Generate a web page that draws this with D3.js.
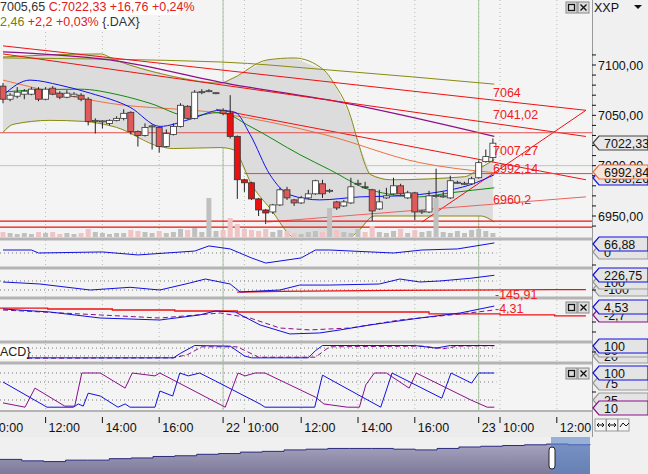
<!DOCTYPE html><html><head><meta charset="utf-8">
<script src="https://cdn.jsdelivr.net/npm/d3@7"></script>
<style>body{margin:0;background:#fff}svg{display:block;font-family:"Liberation Sans",Arial,sans-serif}</style></head><body>
<script>
// ---- data ----
const candles=[ // [open,high,low,close]
[7079,7082,7062,7066],[7066,7072,7064,7070],[7069,7078,7067,7073],[7071,7076,7066,7074],[7071,7078,7070,7076],
[7076,7078,7064,7066],[7066,7078,7065,7076],[7077,7079,7070,7071],[7072,7074,7066,7068],[7068,7075,7067,7072],
[7069,7073,7068,7071],[7070,7072,7064,7066],[7066,7068,7040,7044],[7045,7047,7032,7045],[7044,7045,7037,7044.5],
[7042,7046,7040,7045],[7045,7049,7044,7047],[7047,7056,7045,7052],[7053,7054,7031,7034],[7034,7035,7019,7030],
[7030,7042,7029,7038],[7039,7041,7016,7039.5],[7038,7039,7013,7019],[7019,7036,7018,7032],[7031,7042,7030,7039],
[7039,7062,7038,7060],[7059,7060,7046,7047],[7047,7075,7046,7073],[7073,7076,7071,7073.5],[7074,7076,7073,7074.5],
[7072,7073,7071,7072.5],[7055,7057,7050,7052],[7052,7070,7027,7029],[7029,7030,6967,6986],[6986,6987,6974,6983],
[6983,6984,6966,6967],[6967,6968,6950,6956],[6956,6957,6942,6953],[6954,6962,6952,6961],[6961,6978,6960,6976],
[6976,6979,6966,6968],[6966,6967,6960,6963],[6963,6970,6962,6968],[6968,6976,6967,6972],[6972,6986,6971,6985],
[6982,6986,6968,6972],[6975,6977,6973,6975.5],[6964,6965,6956,6958],[6960,6966,6959,6964],[6963,6988,6962,6979],
[6982,6986,6980,6982.5],[6979,6984,6977,6978],[6976,6977,6945,6955],[6957,6976,6956,6964],[6968,6978,6967,6970],
[6972,6988,6971,6980],[6980,6982,6971,6972],[6968,6975,6967,6973],[6973,6974,6946,6954],[6954,6956,6952,6955],
[6954,6975,6953,6970],[6970,6997,6968,6970.5],[6969,6974,6968,6970],[6968,6990,6967,6985],[6983,6985,6982,6983.5],
[6982,6984,6981,6982.5],[6982,6989,6981,6987],[6988,7005,6987,7003],[7004,7016,7003,7009],[7008,7027,7004,7022.33]];
const volume=[6,5,4,5,4,6,5,6,4,5,4,5,9,6,5,4,5,5,8,7,6,5,7,5,6,9,8,10,6,40,7,8,20,14,9,8,7,9,6,8,7,5,4,6,7,6,30,8,6,5,9,6,12,6,5,7,9,5,8,6,7,40,6,5,7,5,8,9,7,5];
const bbUpper=[[0,7108],[13.7,7111],[15.8,7105],[23.1,7090],[30.6,7082],[32.4,7087],[37.2,7105],[41,7107],[45.2,7095],[46.6,7082],[49,7048],[49.9,7026],[51.8,6991],[54.6,6986],[65,6989],[67.3,6998],[69.2,7006]];
const bbLower=[[0,7033],[1.4,7041],[6.6,7045],[11.3,7044],[16,7038],[22.1,7019],[24,7017],[30.6,7018],[32.4,7016],[35.2,6979],[38,6954],[40,6934],[45,6915],[49.9,6934],[52.3,6950],[67.3,6950],[69.2,6944]];
const maOlive=[[0,7107],[30.6,7103],[46,7095],[69.2,7081]];
const maPurple=[[0,7113],[15,7105],[32,7081],[46,7065],[69.2,7029]];
const maOrange=[[0,7085],[15,7062],[30.6,7052],[45.2,7031],[58.7,7003],[69.2,6993]];
const maGreen=[[0,7073],[3.8,7075],[10.8,7076],[16.5,7070],[20.7,7062],[26.3,7049],[30.6,7053],[34.8,7039],[41.8,7011],[46,6996],[51.7,6976],[58.7,6969],[63,6973],[69.2,6978]];
const maBlue=[[0,7070],[3.8,7085],[8,7080],[12.3,7072],[17.9,7058],[22.1,7039],[26.3,7046],[30.6,7055],[32.7,7053],[34.8,7031],[37.6,6991],[40.4,6971],[44.6,6966],[50.3,6969],[55.9,6970],[61.5,6974],[65.8,6981],[69.2,6991]];
const trendLines=[[[0,7119],[82.1,7055]],[[0,7111],[82.1,7029]],[[30,7056],[82.1,6986]],[[59,6944],[82.1,7055]],[[37.2,6944],[82.1,6969]]];
const hLines=[[-1,7032.7],[34,6992.14],[-1,6945],[-1,6939]];
const levelLabels=[["7064",7068],["7041,02",7046],["7007,27",7011],["6992,14",6993],["6960,2",6962]];
const priceTicks=[7100,7050,7000,6950];
const p1=[[0,20],[4,20],[5,0],[14,7],[19,-13],[27,13],[29,47],[32,27],[35,-33],[37,-67],[42,-33],[44,20],[46,20],[55,0],[59,20],[64,27],[69.2,67]];
const p2Blue=[[0,78],[5.2,33],[12.3,-100],[17.9,-40],[22.1,-100],[26.3,55],[28.5,144],[32,33],[33.4,-144],[39,-100],[41.8,10],[46,10],[53,33],[55.9,144],[58.7,78],[61.5,100],[65.8,160],[69.2,227]];
const p2Red=[[33,-145],[39,-130],[55,-110],[77,-90],[82.1,-90]];
const p3Blue=[[0,2.2],[6.6,-1.1],[13.7,-7.8],[22.1,-10],[27.7,-4.4],[29.9,0],[32.7,-1.1],[36.2,-15.5],[40.4,-25.5],[44.6,-24.4],[47.5,-21],[51.7,-15.5],[58.7,-7.8],[64.4,-2.2],[69.2,5.5]];
const p3Purple=[[0,1.1],[13.7,-4.4],[22.1,-7.8],[30.6,-2.2],[34.8,-7.8],[39,-18.9],[43.2,-21],[48.9,-18.9],[55.9,-10],[64.4,-3.3],[69.2,1.1]];
const p3Red=[[-1,3.3],[6.3,3.3],[6.3,2.2],[15.4,2.2],[15.4,1.1],[24.2,1.1],[24.2,0],[33,0],[33,-1.1],[60,-1.1],[60,-3.3],[70,-3.3],[70,-4.3],[77.7,-4.3],[77.7,-5.5],[82.1,-5.5]];
const p4Blue=[[0,5],[24,5],[25,40],[27,100],[32,95],[34,20],[35,5],[43,5],[44,60],[45,100],[58,100],[61,80],[63,100],[69.2,100]];
const p4Purple=[[0,2],[24,5],[26,30],[28,90],[33,90],[36,10],[44,10],[46,90],[59,95],[62,75],[64,95],[69.2,98]];
const p5Blue=[[0,75],[6.2,5],[9.9,5],[10.6,14],[11.3,8],[12,44],[13.7,36],[16.2,5],[17.2,14],[17.9,5],[21.4,5],[22.1,50],[23.9,36],[24.9,100],[26.1,92],[27.7,100],[29.9,78],[36.2,14],[36.9,5],[43.9,5],[45,94],[53.2,5],[54.8,100],[61.8,30],[63.1,100],[66,72],[67,100],[69.2,100]];
const p5Purple=[[0,17],[3.1,5],[4.5,58],[8.7,8],[10.1,8],[11.1,100],[13.7,100],[17.2,58],[18.2,100],[21.4,92],[22.1,100],[31.3,5],[33.1,100],[34.1,92],[35.5,100],[36.9,100],[44,33],[45.2,14],[48.5,5],[50.2,5],[51.1,67],[52.3,100],[54,100],[57.2,58],[58.2,100],[65.9,25],[68.2,5],[69.2,5]];
const timeTicks=[[-2,"10:00"],[6,"12:00"],[14,"14:00"],[22,"16:00"],[31,"22"],[34,"10:00"],[42,"12:00"],[50,"14:00"],[58,"16:00"],[67,"23"],[70,"10:00"],[78,"12:00"]];
const daySeps=[31,67];
const nav=[20,18,17,19,19,21,22,24,25,27,28,30,31,33,34,35,35,35,34,33,35,37,38,39,40,41,40,41];

// ---- drawing ----
const W=648,H=474,PR=592,FS=12.5;
const svg=d3.select("body").append("svg").attr("width",W).attr("height",H);
const x=d3.scaleLinear().domain([0,80]).range([3,571]);
const y=d3.scaleLinear().domain([7100,6950]).range([65,216]);
svg.append("rect").attr("width",W).attr("height",H).attr("fill","#f4f4f4");
const defs=svg.append("defs");
function clip(id,y0,y1){defs.append("clipPath").attr("id",id).append("rect").attr("x",0).attr("y",y0).attr("width",PR).attr("height",y1-y0);}
clip("cm",0,237);clip("c1",241,267);clip("c2",270,297);clip("c3",300,341);clip("c4",344,362);clip("c5",365,411);
const ln=(ys)=>d3.line().x(d=>x(d[0])).y(d=>ys(d[1]));
const g0=svg.append("g");
timeTicks.forEach(t=>{g0.append("line").attr("x1",x(t[0])).attr("x2",x(t[0])).attr("y1",0).attr("y2",412).attr("stroke","#b4bcb4").attr("stroke-dasharray","1,3");});
daySeps.forEach(d=>g0.append("line").attr("x1",x(d)).attr("x2",x(d)).attr("y1",0).attr("y2",412).attr("stroke","#a8c4a0"));
g0.append("line").attr("x1",0).attr("x2",PR).attr("y1",y(7000)).attr("y2",y(7000)).attr("stroke","#b8c8b8");
const m=svg.append("g").attr("clip-path","url(#cm)");
const area=d3.area().x(d=>x(d[0])).y0(d=>y(d[1])).y1(d=>y(d[2])).curve(d3.curveMonotoneX);
const lowI=d3.scaleLinear().domain(bbLower.map(d=>d[0])).range(bbLower.map(d=>d[1]));
const upI=d3.scaleLinear().domain(bbUpper.map(d=>d[0])).range(bbUpper.map(d=>d[1]));
const bandPts=d3.range(0,69.3,0.3).map(i=>[i,upI(i),lowI(i)]);
m.append("path").attr("d",area(bandPts)).attr("fill","#dcdcdc");
const curveLine=(data,c,w)=>m.append("path").attr("d",ln(y).curve(d3.curveMonotoneX)(data)).attr("fill","none").attr("stroke",c).attr("stroke-width",w||1);
curveLine(bbUpper,"#8a8a10");curveLine(bbLower,"#8a8a10");
curveLine(maOlive,"#8a8a10");curveLine(maPurple,"#8a108a",1.3);curveLine(maOrange,"#f07040");
trendLines.forEach((t,k)=>m.append("path").attr("d",ln(y)(t)).attr("stroke",k==4?"#f06060":"#f01010").attr("fill","none"));
hLines.forEach((h,k)=>m.append("line").attr("x1",x(h[0])).attr("x2",PR).attr("y1",y(h[1])).attr("y2",y(h[1])).attr("stroke",k==1?"#f04040":(k==0?"#e05050":"#f01010")).attr("stroke-width",k>=2?1.2:1));
curveLine(maGreen,"#108a10");curveLine(maBlue,"#1010f0");
const vy=d3.scaleLinear().domain([0,48]).range([238,190]);
m.selectAll(".v").data(volume).join("rect").attr("x",(d,i)=>x(i)-2.5).attr("width",5).attr("y",d=>vy(d)).attr("height",d=>238-vy(d))
 .attr("fill",(d,i)=>candles[i][3]<candles[i][0]?"#f0c4c4":"#c0c0c0");
candles.forEach((c,i)=>{const up=c[3]>=c[0],cx=x(i);
 m.append("line").attr("x1",cx).attr("x2",cx).attr("y1",y(c[1])).attr("y2",y(c[2])).attr("stroke","#222");
 const t=y(Math.max(c[0],c[3])),b=y(Math.min(c[0],c[3]));
 m.append("rect").attr("x",cx-3).attr("width",6).attr("y",t).attr("height",Math.max(1,b-t)).attr("fill",up?"#fff":(i>=32&&i<=37?"#e81010":"#e05a5a")).attr("stroke","#333").attr("stroke-width",0.8);});
levelLabels.forEach(l=>svg.append("text").attr("x",493).attr("y",y(l[1])).attr("font-size",FS).attr("fill","#f02020").text(l[0]));
const h=svg.append("g").attr("font-size",FS);
h.append("rect").attr("x",0).attr("y",0).attr("width",178).attr("height",15).attr("fill","#fff");
h.append("rect").attr("x",0).attr("y",15).attr("width",128).attr("height",15).attr("fill","#fff");
let t1=h.append("text").attr("x",0).attr("y",11);
t1.append("tspan").attr("fill","#333").text("7005,65 ");t1.append("tspan").attr("fill","#e02020").text("C:7022,33 +16,76 +0,24%");
let t2=h.append("text").attr("x",0).attr("y",26);
t2.append("tspan").attr("fill","#7a7a10").text("2,46 ");t2.append("tspan").attr("fill","#e02020").text("+2,2 +0,03% ");t2.append("tspan").attr("fill","#333").text("{.DAX}");
[239,268,298,342,363].forEach(s=>svg.append("rect").attr("x",0).attr("y",s-1.5).attr("width",PR).attr("height",3).attr("fill","#b4b4b4"));
svg.append("rect").attr("x",0).attr("y",410).attr("width",PR).attr("height",2).attr("fill","#b4b4b4");
function panel(id,ys,series,dots){const g=svg.append("g").attr("clip-path",`url(#${id})`);
 dots.forEach(v=>g.append("line").attr("x1",0).attr("x2",x(69.5)).attr("y1",ys(v)).attr("y2",ys(v)).attr("stroke","#777").attr("stroke-dasharray","1,3"));
 series.forEach(s=>g.append("path").attr("d",ln(ys)(s[0])).attr("fill","none").attr("stroke",s[1]).attr("stroke-width",s[3]||1).attr("stroke-dasharray",s[2]||null));return g;}
const y1=v=>253-v*0.15, y2=v=>285.5-v*0.045, y3=v=>311-v*0.9, y4=v=>358.5-v*0.13, y5=v=>409-v*0.36;
panel("c1",y1,[[p1,"#1010e0"]],[0]);
panel("c2",y2,[[p2Red,"#f01010",null,1.3],[p2Blue,"#1010e0"]],[100,-100]);
panel("c3",y3,[[p3Red,"#f01010",null,1.3],[p3Purple,"#8a108a","5,3"],[p3Blue,"#1010e0"]],[]);
panel("c4",y4,[[p4Purple,"#8a108a","5,3"],[p4Blue,"#1010e0"]],[80,20]);
panel("c5",y5,[[p5Purple,"#8a108a"],[p5Blue,"#1010e0"]],[100,75,25]);
svg.append("text").attr("x",495).attr("y",299).attr("font-size",FS).attr("fill","#f02020").text("-145,91");
svg.append("text").attr("x",495).attr("y",313).attr("font-size",FS).attr("fill","#f02020").text("-4,31");
svg.append("rect").attr("x",0).attr("y",345).attr("width",27).attr("height",14).attr("fill","#fff");
svg.append("text").attr("x",0).attr("y",356).attr("font-size",FS).attr("fill","#222").text("ACD}");
function btns(yy){[566,578].forEach((bx,k)=>{const b=svg.append("g");b.append("rect").attr("x",bx).attr("y",yy).attr("width",11).attr("height",11).attr("fill","#ddd").attr("stroke","#888");
 if(k==0)b.append("rect").attr("x",bx+2.5).attr("y",yy+2.5).attr("width",6).attr("height",6).attr("fill","none").attr("stroke","#111").attr("stroke-width",1.3);
 else b.append("path").attr("d",`M${bx+2.5},${yy+2.5}L${bx+8.5},${yy+8.5}M${bx+8.5},${yy+2.5}L${bx+2.5},${yy+8.5}`).attr("stroke","#111").attr("stroke-width",1.3);});}
btns(2);btns(302);btns(368);
svg.append("rect").attr("x",PR).attr("y",0).attr("width",W-PR).attr("height",H).attr("fill","#f0f0f0");
svg.append("line").attr("x1",PR+0.5).attr("x2",PR+0.5).attr("y1",0).attr("y2",437).attr("stroke","#999");
svg.append("text").attr("x",594).attr("y",12).attr("font-size",FS).attr("fill","#111").text("XXP");
svg.append("path").attr("d","M634,5L642,5L638,9Z").attr("fill","#111");
d3.range(6940,7120,10).forEach(v=>{if(y(v)>20&&y(v)<236)svg.append("line").attr("x1",PR).attr("x2",PR+4).attr("y1",y(v)).attr("y2",y(v)).attr("stroke","#111");});
priceTicks.forEach(v=>svg.append("text").attr("x",598).attr("y",y(v)+4.5).attr("font-size",FS).attr("fill","#111").text(d3.format(".2f")(v).replace(".",",")));
function tag(yy,txt,stroke,fill){const g=svg.append("g");
 g.append("path").attr("d",`M${PR+1},${yy}L${PR+7},${yy-7}H${W}V${yy+7}H${PR+7}Z`).attr("fill",fill||"#e4e4e4").attr("stroke",stroke).attr("stroke-width",1.2);
 g.append("text").attr("x",PR+12).attr("y",yy+4.5).attr("font-size",FS).attr("fill","#111").text(txt);}
tag(178,"6988,26","#1010e0");tag(172,"6992,84","#f07040","#f4e4dc");tag(143,"7022,33","#444","#e8e8e8");
tag(252,"0","#999");tag(244,"66,88","#1010e0");
tag(289,"-100","#999");tag(282,"100","#999");tag(275,"226,75","#1010e0");
tag(315,"-2,7","#8a108a");tag(307,"4,53","#1010e0");
tag(356,"20","#999");tag(350,"80","#999");tag(346,"100","#1010e0");
tag(400,"25","#999");tag(383,"75","#999");tag(408,"10","#8a108a");tag(373,"100","#1010e0");
[265,290,322,332,352,392].forEach(v=>svg.append("line").attr("x1",PR).attr("x2",PR+4).attr("y1",v).attr("y2",v).attr("stroke","#111"));
svg.append("rect").attr("x",0).attr("y",412).attr("width",PR).attr("height",25).attr("fill","#ececec");
timeTicks.forEach(t=>{svg.append("line").attr("x1",x(t[0])).attr("x2",x(t[0])).attr("y1",417).attr("y2",423).attr("stroke","#111");
 svg.append("text").attr("x",x(t[0])+3).attr("y",432).attr("font-size",FS).attr("fill","#111").text(t[1]);});
[0,1,2].forEach(k=>{svg.append("rect").attr("x",595+k*11.5).attr("y",419).attr("width",11).attr("height",12).attr("fill","#f6f6f6").attr("stroke","#999");});
svg.append("path").attr("d","M597,425H604M597,425l2,-2M604,425l-2,-2M604,425l-2,2M597,425l2,2M608,425H616M608,425l2,-2M608,425l2,2M616,425l-2,-2M616,425l-2,2M620,427l3,-4l3,3l3,-3").attr("stroke","#111").attr("fill","none");
const ng=defs.append("linearGradient").attr("id","ng").attr("x1",0).attr("x2",0).attr("y1",0).attr("y2",1);
ng.append("stop").attr("offset",0).attr("stop-color","#a6a3bf");ng.append("stop").attr("offset",1).attr("stop-color","#7c7a98");
svg.append("rect").attr("x",0).attr("y",437).attr("width",PR).attr("height",37).attr("fill","#f0f0f0");
const nx=d3.scaleLinear().domain([0,nav.length-1]).range([0,590]), ny=v=>474-v*0.73;
svg.append("path").attr("d",d3.area().x((d,i)=>nx(i)).y0(474).y1(d=>ny(d)).curve(d3.curveStepAfter)(nav)).attr("fill","url(#ng)");
svg.append("path").attr("d",d3.line().x((d,i)=>nx(i)).y(d=>ny(d)).curve(d3.curveStepAfter)(nav)).attr("fill","none").attr("stroke","#2a2a80");
svg.append("rect").attr("x",551).attr("y",437).attr("width",39).attr("height",37).attr("fill","#5a86c8").attr("opacity",0.6);
svg.append("rect").attr("x",549).attr("y",447).attr("width",6).attr("height",22).attr("rx",3).attr("fill","#fff").attr("stroke","#222");
</script></body></html>
